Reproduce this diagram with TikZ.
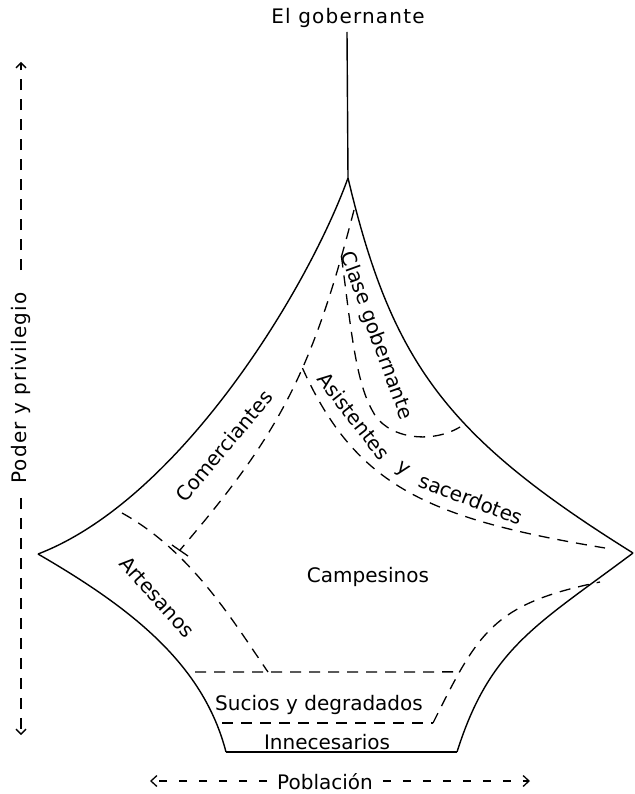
\documentclass[tikz,border=0pt]{standalone}
\usepackage{fontspec}
\setmainfont{DejaVu Sans}
\usetikzlibrary{arrows.meta}
\begin{document}
\begin{tikzpicture}[x=1pt,y=-1pt,
  outline/.style={line width=1.4pt, line join=round},
  division/.style={line width=1.3pt, dash pattern=on 11pt off 8pt},
  vaxis/.style={line width=1.3pt, dash pattern=on 11pt off 9pt, -{Straight Barb[length=5pt,width=10pt]}},
  haxis/.style={line width=1.3pt, dash pattern=on 8pt off 12pt, -{Straight Barb[length=6pt,width=11pt]}},
  lbl/.style={font=\fontsize{20}{24}\selectfont, inner sep=0pt},
  widelbl/.style={font=\fontsize{20}{24}\selectfont\addfontfeature{LetterSpace=6}, inner sep=0pt}]
\useasboundingbox (0,0) rectangle (634,794);
% outline vertices
\coordinate (top) at (347,32);
\coordinate (apex) at (348,178);
\coordinate (west) at (38,554);
\coordinate (east) at (633,553);
\coordinate (sw) at (226,752);
\coordinate (se) at (457,752);
% outline
\draw[outline] (top) -- (apex);
\draw[outline] (apex) .. controls (307,291) and (179,500) .. (west);
\draw[outline] (west) .. controls (133,609) and (203.5,665) .. (sw);
\draw[outline] (sw) -- (se);
\draw[outline] (se) .. controls (490,647.5) and (537,625) .. (east);
\draw[outline] (apex) .. controls (391.7,362.3) and (446,436.4) .. (east);
% inner dashed divisions
\coordinate (aStart) at (354,210);
\coordinate (comEnd) at (180,550);
\draw[division] (aStart) .. controls (311.5,375) and (277.5,436) .. (comEnd)
  coordinate[pos=0.1] (claseFork) coordinate[pos=0.4] (asisFork);
\coordinate (claseEnd) at (460,427);
\draw[division] (claseFork) .. controls (350,320) and (355,380) .. (372,410)
  .. controls (385,438) and (430,445) .. (claseEnd);
\coordinate (asisEnd) at (605,548);
\draw[division] (asisFork) .. controls (355.8,486.3) and (427.7,518.6) .. (asisEnd);
\coordinate (artStart) at (122,513);
\coordinate (artEnd) at (268,672);
\draw[division] (artStart) .. controls (191.6,551.4) and (234.4,623.2) .. (artEnd);
\draw[line width=1.3pt] (172,545) -- (188,556);
\coordinate (sBotL) at (222,723);
\coordinate (sBotR) at (433,723);
\coordinate (campEnd) at (600,582);
\draw[division] (sBotR) .. controls (478,633) and (492,604) .. (campEnd)
  coordinate[pos=0.22] (sTopR);
\coordinate (sTopL) at (195,672);
\draw[division] (sTopL) -- (sTopR);
\draw[division] (sBotL) -- (sBotR);
% labels
\node[widelbl, anchor=base] (ruler) at (348,24) {El gobernante};
\node[lbl, rotate=-70] (clase) at (376,336) {Clase gobernante};
\node[lbl, rotate=50] (comer) at (224,446) {Comerciantes};
\node[lbl, rotate=-48] (artes) at (157,597) {Artesanos};
\node[lbl, rotate=-52] (asis) at (354,416) {Asistentes};
\node[lbl, rotate=-35] (yy) at (402,470) {y};
\node[lbl, rotate=-21] (sacer) at (471,499) {sacerdotes};
\node[lbl, anchor=base] (camp) at (368,582) {Campesinos};
\node[lbl, anchor=base] (sucios) at (319,710) {Sucios y degradados};
\node[lbl, anchor=base] (innec) at (327,749) {Innecesarios};
\node[lbl, anchor=base] (pobl) at (325,789) {Población};
\node[widelbl, rotate=90] (poder) at (21,388) {Poder y privilegio};
% axes
\coordinate (ytop) at (21,62);
\coordinate (ybot) at (21,735);
\coordinate (xleft) at (150,781);
\coordinate (xright) at (530,781);
\draw[vaxis, shorten <=22pt] (poder) -- (ytop);
\draw[vaxis, shorten <=14pt] (poder) -- (ybot);
\draw[haxis, shorten <=10pt] (pobl.west |- xleft) -- (xleft);
\draw[haxis, shorten <=10pt] (pobl.east |- xright) -- (xright);
\end{tikzpicture}
\end{document}
